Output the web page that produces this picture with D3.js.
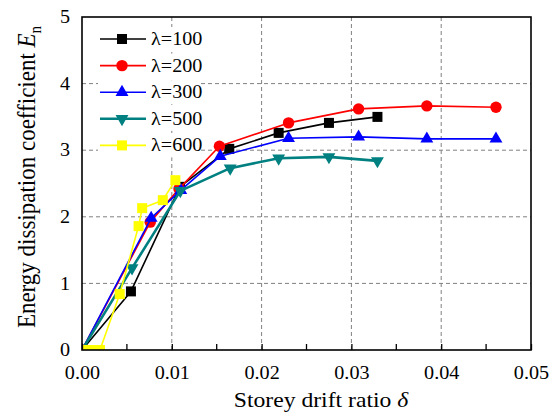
<!DOCTYPE html>
<html>
<head>
<meta charset="utf-8">
<script src="https://cdn.jsdelivr.net/npm/d3@7"></script>
</head>
<body style="margin:0;background:#fff">
<svg id="chart" width="555" height="414" style="display:block"></svg>
<script>
// Storey drift ratio (x) and energy dissipation coefficient (y) per slenderness λ
const seriesNames = ["λ=100", "λ=200", "λ=300", "λ=500", "λ=600"];
const drift100 = [0, 0.00545, 0.0109, 0.0164, 0.0219, 0.0275, 0.0329];
const en100    = [0, 0.88, 2.45, 3.02, 3.26, 3.41, 3.50];
const drift200 = [0, 0.0076, 0.0108, 0.0153, 0.0230, 0.0308, 0.0384, 0.0461];
const en200    = [0, 1.92, 2.42, 3.06, 3.41, 3.62, 3.665, 3.645];
const drift300 = [0, 0.0077, 0.0110, 0.0154, 0.0230, 0.0308, 0.0384, 0.0461];
const en300    = [0, 1.98, 2.40, 2.91, 3.18, 3.20, 3.17, 3.17];
const drift500 = [0, 0.00557, 0.01095, 0.0165, 0.0219, 0.0275, 0.0329];
const en500    = [0, 1.23, 2.39, 2.73, 2.88, 2.90, 2.84];
const drift600 = [0, 0.0011, 0.0020, 0.0042, 0.0063, 0.0067, 0.0090, 0.0104];
const en600    = [0, 0, 0, 0.84, 1.86, 2.13, 2.25, 2.55];

const xTicks = [0, 0.01, 0.02, 0.03, 0.04, 0.05];
const xMinorTicks = [0.005, 0.015, 0.025, 0.035, 0.045];
const yTicks = [0, 1, 2, 3, 4, 5];

const colors = ["#000000", "#ff0000", "#0000ff", "#008080", "#ffff00"];
const shapes = ["square", "circle", "triangle", "triangleDown", "square"];
const lineWidths = [1.6, 1.6, 1.6, 2.6, 1.6];
const FONT = "Liberation Serif";
const WIDEN = 1.12; // lettering is set slightly wide

const drifts = [drift100, drift200, drift300, drift500, drift600];
const ens = [en100, en200, en300, en500, en600];
const series = seriesNames.map((name, i) => ({
  name, color: colors[i], shape: shapes[i], lw: lineWidths[i],
  points: drifts[i].map((d, j) => ({ x: d, y: ens[i][j] }))
}));

const svg = d3.select("#chart");
const m = { left: 82, right: 24, top: 17, bottom: 64 };
const W = 555, H = 414;
const x = d3.scaleLinear().domain([0, 0.05]).range([m.left, W - m.right]);
const y = d3.scaleLinear().domain([0, 5]).range([H - m.bottom, m.top]);

svg.append("defs").append("clipPath").attr("id", "plotArea").append("rect")
  .attr("x", x(0)).attr("y", y(5)).attr("width", x(0.05) - x(0)).attr("height", y(0) - y(5));

// dashed grid
const grid = svg.append("g").attr("stroke", "#808080").attr("stroke-width", 1).attr("stroke-dasharray", "4,3");
grid.selectAll("line.gx").data(xTicks.slice(1, -1)).join("line")
  .attr("x1", d => x(d)).attr("x2", d => x(d)).attr("y1", y(0)).attr("y2", y(5));
grid.selectAll("line.gy").data(yTicks.slice(1, -1)).join("line")
  .attr("x1", x(0)).attr("x2", x(0.05)).attr("y1", d => y(d)).attr("y2", d => y(d));

function marker(g, shape, color, cx, cy) {
  if (shape === "circle") {
    g.append("circle").attr("cx", cx).attr("cy", cy).attr("r", 5.7).attr("fill", color);
  } else if (shape === "square") {
    g.append("rect").attr("x", cx - 5).attr("y", cy - 5).attr("width", 10).attr("height", 10).attr("fill", color);
  } else {
    const sym = d3.symbol().type(d3.symbolTriangle).size(72);
    g.append("path").attr("d", sym()).attr("fill", color)
      .attr("transform", `translate(${cx},${cy})` + (shape === "triangleDown" ? " rotate(180)" : ""));
  }
}

// series lines and markers, clipped to the plotting frame
const line = d3.line().x(d => x(d.x)).y(d => y(d.y));
const plot = svg.append("g").attr("clip-path", "url(#plotArea)");
series.forEach(s => {
  plot.append("path").datum(s.points).attr("d", line).attr("fill", "none")
    .attr("stroke", s.color).attr("stroke-width", s.lw).attr("stroke-linejoin", "round");
  s.points.forEach(p => marker(plot, s.shape, s.color, x(p.x), y(p.y)));
});

// axes with inward ticks
const xAxis = d3.axisBottom(x).tickValues(xTicks).tickFormat(d3.format(".2f")).tickSizeInner(-6).tickSizeOuter(0).tickPadding(16);
const gx = svg.append("g").attr("transform", `translate(0,${y(0)})`).call(xAxis);
gx.append("g").selectAll("line").data(xMinorTicks).join("line")
  .attr("x1", d => x(d)).attr("x2", d => x(d)).attr("y1", 0).attr("y2", -6);
const yAxis = d3.axisLeft(y).tickValues(yTicks).tickFormat(d3.format("d")).tickSizeInner(0).tickSizeOuter(0).tickPadding(12);
const gy = svg.append("g").attr("transform", `translate(${x(0)},0)`).call(yAxis);
[gx, gy].forEach(g => {
  g.attr("font-family", FONT);
  g.select(".domain").remove();
  g.selectAll("text").attr("font-family", FONT).attr("font-size", 18).attr("fill", "#000");
  g.selectAll("line").attr("stroke", "#000").attr("stroke-width", 1.3);
});
gx.selectAll(".tick text").attr("transform", `scale(${WIDEN},1)`);
gy.selectAll(".tick text").attr("transform", `translate(-12,0) scale(${WIDEN},1) translate(12,0)`);

// frame
svg.append("rect").attr("x", x(0)).attr("y", y(5)).attr("width", x(0.05) - x(0)).attr("height", y(0) - y(5))
  .attr("fill", "none").attr("stroke", "#000").attr("stroke-width", 1.6);

// legend
const lg = svg.append("g").attr("transform", "translate(100,39)");
series.forEach((s, i) => {
  const row = lg.append("g").attr("transform", `translate(0,${i * 26.6})`);
  row.append("rect").attr("x", -2).attr("y", -12).attr("width", 100).attr("height", 24).attr("fill", "#fff");
  row.append("line").attr("x1", 0).attr("x2", 46).attr("y1", 0).attr("y2", 0)
    .attr("stroke", s.color).attr("stroke-width", s.lw);
  marker(row, s.shape, s.color, 22, 0);
  row.append("text").attr("transform", `translate(51,6) scale(${WIDEN},1)`)
    .attr("font-family", FONT).attr("font-size", 18).text(s.name);
});

// axis titles
svg.append("text").attr("transform", `translate(321,406.5) scale(1.1,1)`).attr("text-anchor", "middle")
  .attr("font-family", FONT).attr("font-size", 21.5)
  .html('Storey drift ratio <tspan font-style="italic">δ</tspan>');
svg.append("text").attr("transform", `translate(35,177) scale(${WIDEN},1) rotate(-90)`).attr("text-anchor", "middle")
  .attr("font-family", FONT).attr("font-size", 23)
  .html('Energy dissipation coefficient <tspan font-style="italic">E</tspan><tspan font-size="15" dy="5">n</tspan>');
</script>
</body>
</html>
